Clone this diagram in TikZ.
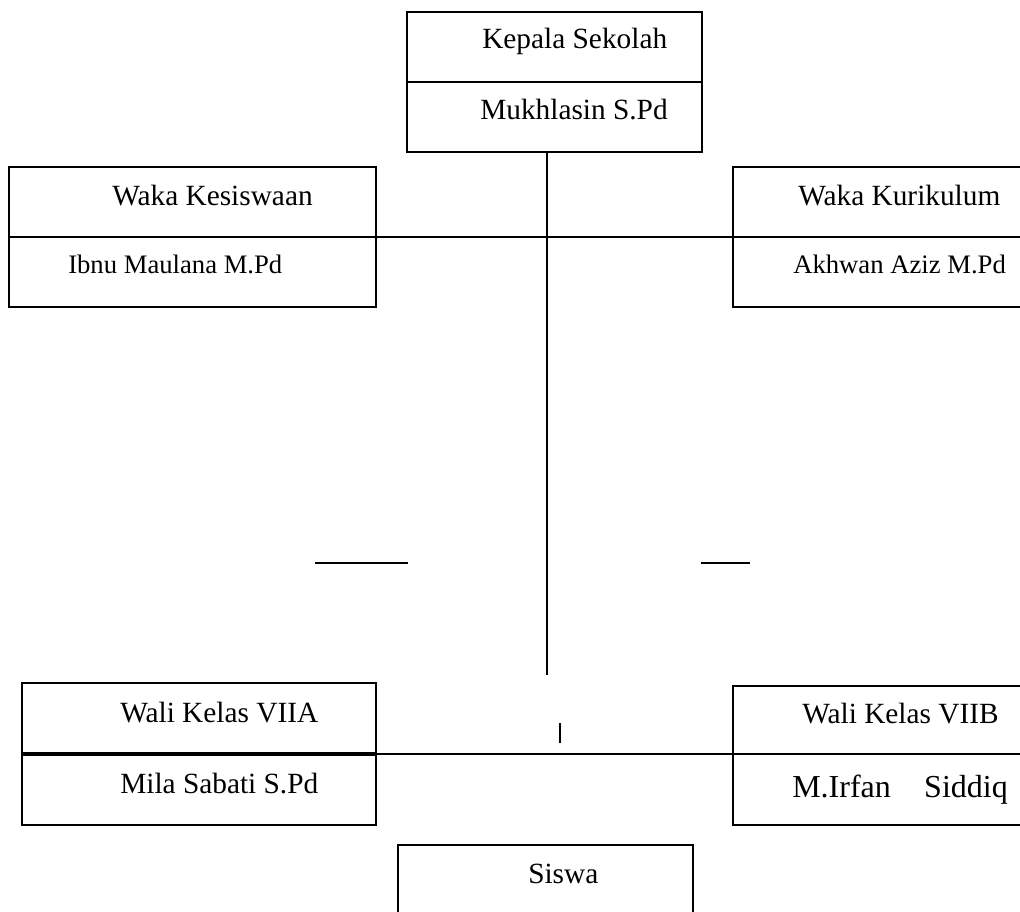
\documentclass[tikz,border=0pt]{standalone}
\usepackage{fontspec}
\setmainfont{Liberation Serif}
\begin{document}
\begin{tikzpicture}[x=0.75pt,y=-0.75pt,
  box/.style={draw,line width=1.1pt,rectangle,inner sep=0pt,outer sep=0pt,anchor=north west},
  lbl/.style={anchor=base west,inner sep=0pt,font=\fontsize{22}{26}\selectfont},
  lblsmall/.style={anchor=base west,inner sep=0pt,font=\fontsize{20}{24}\selectfont},
  lblbig/.style={anchor=base west,inner sep=0pt,font=\fontsize{24}{28}\selectfont},
  link/.style={line width=1.1pt},
  divider/.style={line width=1.1pt},
  stub/.style={line width=1.5pt}]
\clip (0,0) rectangle (1020,911);
\useasboundingbox (0,0) rectangle (1020,911);

% boxes
\node[box,minimum width=221.25pt,minimum height=105pt] (kepala) at (407,12) {};
\node[box,minimum width=275.25pt,minimum height=105pt] (kes) at (9,167) {};
\node[box,minimum width=225pt,minimum height=105pt] (kur) at (733,167) {};
\node[box,minimum width=265.5pt,minimum height=106.5pt] (walia) at (22,683) {};
\node[box,minimum width=225pt,minimum height=104.25pt] (walib) at (733,686) {};
\node[box,minimum width=221.25pt,minimum height=75pt] (siswa) at (398,845) {};

% dividers
\draw[divider] (kepala.west) -- (kepala.east);
\draw[divider] (kes.west) -- (kes.east);
\draw[divider] (kur.west) -- (kur.east);
\draw[line width=2.3pt] (walia.west) -- (walia.east);
\coordinate (wbl) at (733,754);
\coordinate (wbr) at (1030,754);
\draw[divider] (wbl) -- (wbr);

% labels
\node[lbl] (t1) at (482,48) {Kepala Sekolah};
\node[lbl] (t2) at (480,119) {Mukhlasin S.Pd};
\node[lbl] (t3) at (112,205) {Waka Kesiswaan};
\node[lblsmall] (t4) at (68,273) {Ibnu Maulana M.Pd};
\node[lbl] (t5) at (798,205) {Waka Kurikulum};
\node[lblsmall] (t6) at (793,273) {Akhwan Aziz M.Pd};
\node[lbl] (t7) at (120,722) {Wali Kelas VIIA};
\node[lbl] (t8) at (120,793) {Mila Sabati S.Pd};
\node[lbl] (t9) at (802,723) {Wali Kelas VIIB};
\node[lblbig] (t10) at (792,797) {M.Irfan\hspace{25pt}Siddiq};
\node[lbl] (t11) at (528,883) {Siswa};

% connectors
\coordinate (vend) at (547,675);
\draw[link] (kepala.south -| vend) -- (vend);
\draw[link] (kes.east) -- (kur.west);
\draw[link] (walia.east) -- (wbl);

% stray strokes
\coordinate (s1a) at (315,563); \coordinate (s1b) at (408,563);
\coordinate (s2a) at (701,563); \coordinate (s2b) at (750,563);
\coordinate (tka) at (560,723); \coordinate (tkb) at (560,743);
\draw[stub] (s1a) -- (s1b);
\draw[stub] (s2a) -- (s2b);
\draw[stub] (tka) -- (tkb);
\end{tikzpicture}
\end{document}
